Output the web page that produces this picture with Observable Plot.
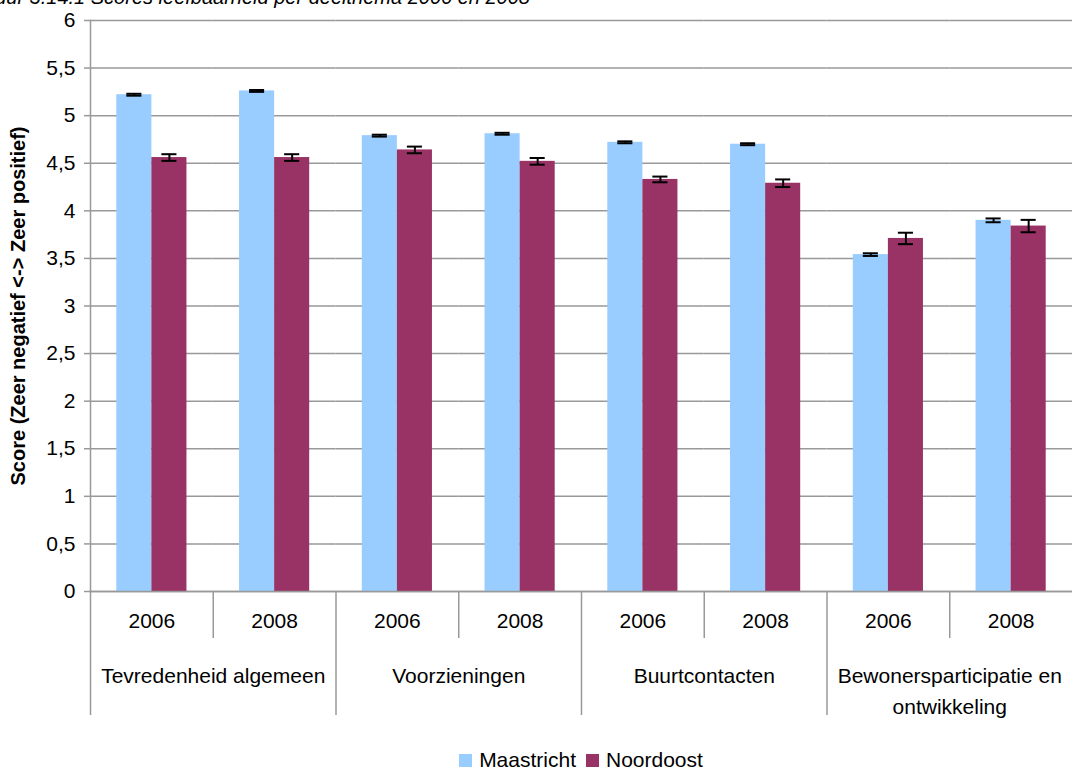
<!DOCTYPE html>
<html><head><meta charset="utf-8">
<script src="https://cdn.jsdelivr.net/npm/d3@7"></script>
<script src="https://cdn.jsdelivr.net/npm/@observablehq/plot@0.6"></script>
<style>
html,body{margin:0;padding:0;background:#fff;}
body{position:relative;width:1072px;height:769px;overflow:hidden;font-family:"Liberation Sans",Arial,sans-serif;color:#000;}
#title{position:absolute;right:542px;top:-13px;font-style:italic;font-size:20px;line-height:20px;white-space:nowrap;z-index:2;}
#chart{position:absolute;left:0;top:0;z-index:1;}
#legend{position:absolute;left:90px;width:982px;top:750px;display:flex;justify-content:center;align-items:center;font-size:21px;line-height:20px;}
#legend .item{display:flex;align-items:center;margin:0 5px;}
#legend .sw{display:inline-block;width:13px;height:13px;margin-right:7px;}
[aria-label="y-axis label"] text{font-weight:bold;font-size:20px;}
</style></head><body>
<div id="title">Figuur 3.14.1 Scores leefbaarheid per deelthema 2006 en 2008</div>
<div id="chart"></div>
<div id="legend"></div>
<script>
const themes = ["Tevredenheid algemeen", "Voorzieningen", "Buurtcontacten", "Bewonersparticipatie en ontwikkeling"];
const years = ["2006", "2008"];
const series = ["Maastricht", "Noordoost"];
const colors = ["#99CCFF", "#993366"];
const maastricht = [5.22, 5.26, 4.79, 4.81, 4.72, 4.70, 3.54, 3.90];
const noordoost = [4.56, 4.56, 4.64, 4.52, 4.33, 4.29, 3.71, 3.84];
const maastrichtErr = [0.01, 0.01, 0.01, 0.01, 0.01, 0.01, 0.014, 0.02];
const noordoostErr = [0.035, 0.035, 0.035, 0.035, 0.03, 0.04, 0.06, 0.065];
const yTicks = [0, 0.5, 1, 1.5, 2, 2.5, 3, 3.5, 4, 4.5, 5, 5.5, 6];

const slots = themes.flatMap(t => years.map(y => t + "|" + y));
const rows = slots.flatMap((k, i) => [
  {key: k, series: series[0], value: maastricht[i], err: maastrichtErr[i]},
  {key: k, series: series[1], value: noordoost[i], err: noordoostErr[i]}
]);

const W = 1072, H = 730, mL = 90, mR = 0, mT = 20, mB = 139;
const step = (W - mL - mR) / slots.length;
const gray = "#999999";

const chart = Plot.plot({
  width: W, height: H,
  marginLeft: mL, marginRight: mR, marginTop: mT, marginBottom: mB,
  style: {fontFamily: "'Liberation Sans', Arial, sans-serif", fontSize: "21px", color: "#000", background: "transparent", overflow: "visible"},
  fx: {domain: slots, padding: 0, round: false, label: null},
  x: {domain: series, paddingInner: 0, paddingOuter: 0.75, round: false, axis: null},
  y: {domain: [0, 6], label: null},
  color: {domain: series, range: colors},
  marks: [
    Plot.gridY(yTicks, {stroke: gray, strokeOpacity: 1, strokeWidth: 1.5}),
    Plot.barY(rows, {fx: "key", x: "series", y: "value", fill: "series"}),
    Plot.ruleX(rows, {fx: "key", x: "series", y1: d => d.value - d.err, y2: d => d.value + d.err, stroke: "#000", strokeWidth: 2}),
    Plot.tickY(rows, {fx: "key", x: "series", y: d => d.value - d.err, stroke: "#000", strokeWidth: 2, insetLeft: 10, insetRight: 10}),
    Plot.tickY(rows, {fx: "key", x: "series", y: d => d.value + d.err, stroke: "#000", strokeWidth: 2, insetLeft: 10, insetRight: 10}),
    Plot.ruleY([0], {stroke: gray, strokeWidth: 1.5}),
    Plot.frame({anchor: "left", facetAnchor: "left", stroke: gray, strokeWidth: 1.5}),
    Plot.axisY({
      ticks: yTicks, tickSize: 6, tickPadding: 9, stroke: gray, strokeWidth: 1.5,
      tickFormat: d => String(d).replace(".", ","),
      label: "Score (Zeer negatief <-> Zeer positief)", labelAnchor: "center", labelArrow: "none", labelOffset: 80
    }),
    Plot.axisFx({anchor: "bottom", tickSize: 0, tickPadding: 22, tickFormat: k => k.split("|")[1], label: null}),
    Plot.axisFx({anchor: "bottom", ticks: slots.filter(k => k.endsWith("|2008")), tickSize: 47, tickFormat: () => "", dx: -step / 2, stroke: gray, strokeWidth: 1.5, label: null}),
    Plot.axisFx({anchor: "bottom", ticks: slots.filter(k => k.endsWith("|2006")), tickSize: 124, tickFormat: () => "", dx: -step / 2, stroke: gray, strokeWidth: 1.5, label: null}),
    Plot.text(themes, {fx: t => t + "|2006", text: d => d, frameAnchor: "bottom-right", textAnchor: "middle", lineAnchor: "top", dy: 69, lineWidth: 12, lineHeight: 1.5, fill: "#000"})
  ]
});
document.getElementById("chart").appendChild(chart);

const legend = document.getElementById("legend");
series.forEach((s, i) => {
  const item = document.createElement("span");
  item.className = "item";
  const sw = document.createElement("span");
  sw.className = "sw";
  sw.style.background = colors[i];
  item.appendChild(sw);
  item.appendChild(document.createTextNode(s));
  legend.appendChild(item);
});
</script>
</body></html>
